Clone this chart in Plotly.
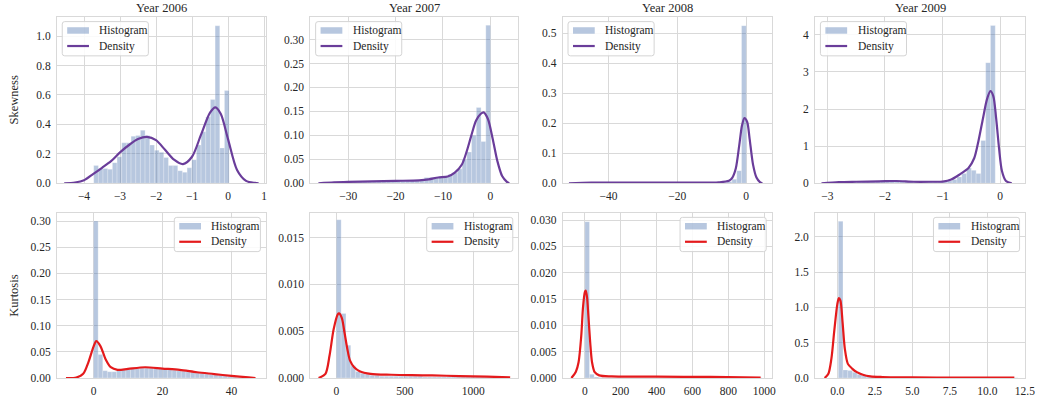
import numpy as np
import plotly.graph_objects as go

# ---------------- DATA ----------------
years = ["Year 2006", "Year 2007", "Year 2008", "Year 2009"]
row_labels = ["Skewness", "Kurtosis"]
legend_labels = ["Histogram", "Density"]

# Skewness histograms: (low edge, high edge) and bar heights
skew_2006_range = (-3.73, 0.03)
skew_2006_hist = [0.12, 0.10, 0.10, 0.095, 0.14, 0.18, 0.275, 0.275, 0.32, 0.325,
                  0.36, 0.325, 0.26, 0.225, 0.21, 0.175, 0.12, 0.12, 0.085, 0.075,
                  0.105, 0.16, 0.26, 0.35, 0.45, 0.57, 1.07, 0.24, 0.63]
skew_2006_kde_x = [-4.55, -4.25, -4.0, -3.75, -3.5, -3.25, -3.0, -2.75, -2.5, -2.25,
                   -2.0, -1.75, -1.5, -1.25, -1.0, -0.75, -0.5, -0.35, -0.2, 0.0,
                   0.25, 0.5, 0.75, 0.85]
skew_2006_kde_y = [0.0, 0.005, 0.02, 0.062, 0.105, 0.15, 0.21, 0.26, 0.30, 0.315,
                   0.293, 0.227, 0.16, 0.13, 0.18, 0.33, 0.48, 0.515, 0.47, 0.30,
                   0.09, 0.016, 0.002, 0.0]

skew_2007_range = (-35.95, 0.05)
skew_2007_hist = [0.001, 0.001, 0.001, 0.002, 0.002, 0.002, 0.002, 0.003, 0.003, 0.003,
                  0.003, 0.003, 0.004, 0.004, 0.004, 0.004, 0.005, 0.005, 0.005, 0.005,
                  0.006, 0.008, 0.012, 0.012, 0.013, 0.014, 0.015, 0.018, 0.022, 0.03,
                  0.05, 0.065, 0.10, 0.158, 0.087, 0.33]
skew_2007_kde_x = [-36.3, -33, -30, -25, -20, -15, -13, -11, -9, -7.5, -6, -5, -4, -3,
                   -2, -1.4, -0.5, 0.5, 1.5, 2.5, 3.5, 4.0]
skew_2007_kde_y = [0.0, 0.002, 0.003, 0.004, 0.005, 0.006, 0.008, 0.012, 0.014, 0.022,
                   0.039, 0.066, 0.10, 0.131, 0.145, 0.148, 0.134, 0.093, 0.046, 0.015,
                   0.003, 0.0]

skew_2008_range = (-51.38, 0.05)
skew_2008_hist = [0.001] * 20 + [0.001, 0.001, 0.001, 0.002, 0.002, 0.002, 0.002, 0.002,
                                  0.002, 0.002, 0.002, 0.003, 0.003, 0.006, 0.013, 0.042, 0.525]
skew_2008_kde_x = [-51.5, -45, -35, -25, -15, -8, -5, -4, -3, -2, -1.2, -0.5, 0.3, 1.0,
                   2.0, 3.0, 4.0, 4.7]
skew_2008_kde_y = [0.0, 0.002, 0.002, 0.002, 0.002, 0.003, 0.008, 0.019, 0.05, 0.127,
                   0.193, 0.217, 0.204, 0.149, 0.062, 0.019, 0.004, 0.0]

skew_2009_range = (-3.074, -0.086)
skew_2009_hist = [0.02, 0.02, 0.02, 0.03, 0.03, 0.04, 0.04, 0.05, 0.05, 0.04, 0.04, 0.05,
                  0.06, 0.06, 0.05, 0.05, 0.06, 0.06, 0.05, 0.05, 0.04, 0.04, 0.05, 0.05,
                  0.05, 0.06, 0.07, 0.10, 0.17, 0.26, 0.41, 0.35, 0.26, 1.15, 3.25, 4.25]
skew_2009_kde_x = [-3.1, -2.8, -2.5, -2.1, -1.8, -1.5, -1.2, -1.0, -0.85, -0.7, -0.55,
                   -0.45, -0.38, -0.3, -0.23, -0.17, -0.12, -0.07, -0.02, 0.03, 0.1, 0.2]
skew_2009_kde_y = [0.0, 0.03, 0.04, 0.05, 0.06, 0.04, 0.04, 0.045, 0.10, 0.24, 0.41,
                   0.68, 1.12, 1.74, 2.26, 2.48, 2.35, 1.74, 0.94, 0.33, 0.06, 0.0]

# Kurtosis histograms
kurt_2006_range = (0.0, 44.22)
kurt_2006_hist = [0.30, 0.045, 0.014, 0.012, 0.012, 0.016, 0.016, 0.017, 0.018, 0.018,
                  0.019, 0.019, 0.019, 0.018, 0.018, 0.017, 0.016, 0.015, 0.014, 0.013,
                  0.012, 0.011, 0.010, 0.009, 0.008, 0.007, 0.006, 0.005, 0.004, 0.003,
                  0.002, 0.001, 0.001]
kurt_2006_kde_x = [-8.0, -5.0, -3.0, -1.5, 0.0, 0.8, 2.0, 3.5, 5.0, 7.0, 10.0, 15.0,
                   20.0, 25.0, 30.0, 35.0, 40.0, 45.0, 47.0]
kurt_2006_kde_y = [0.0, 0.001, 0.008, 0.03, 0.06, 0.0705, 0.061, 0.036, 0.0206, 0.0156,
                   0.0175, 0.0206, 0.018, 0.0156, 0.011, 0.0075, 0.004, 0.0012, 0.0]

kurt_2007_range = (0.0, 1260.0)
kurt_2007_hist = [0.0169, 0.0069, 0.0035, 0.0013, 0.0007, 0.0005, 0.0004, 0.0003, 0.0003,
                  0.0002, 0.0002, 0.0002, 0.0002, 0.0002, 0.0002, 0.0002, 0.0002, 0.0002,
                  0.0001, 0.0001, 0.0001, 0.0001, 0.0001, 0.0001, 0.0001, 0.0001, 0.0001,
                  0.0001, 0.0001, 0.0001, 0.0001, 0.0001, 0.0001, 0.0001, 0.0001, 0.0001]
kurt_2007_kde_x = [-130, -80, -50, -20, 10, 20, 40, 60, 80, 100, 130, 170, 250, 400,
                   550, 700, 900, 1100, 1270]
kurt_2007_kde_y = [0.0, 0.00045, 0.0024, 0.0052, 0.0068, 0.0069, 0.0064, 0.0048, 0.0031,
                   0.00185, 0.00115, 0.00073, 0.00045, 0.00035, 0.0003, 0.00028, 0.0002,
                   0.00014, 0.00007]

kurt_2008_range = (0.0, 988.0)
kurt_2008_hist = [0.0297, 0.0007, 0.0002, 0.0001] + [0.00005] * 34
kurt_2008_kde_x = [-75, -50, -35, -20, -10, 0, 5, 12, 20, 30, 40, 55, 80, 150, 400,
                   700, 980]
kurt_2008_kde_y = [0.0, 0.0012, 0.003, 0.008, 0.0135, 0.0163, 0.0166, 0.0154, 0.0117,
                   0.0067, 0.003, 0.0011, 0.0005, 0.0003, 0.00025, 0.0002, 0.0001]

kurt_2009_range = (0.06, 12.03)
kurt_2009_hist = [2.22, 0.115, 0.105, 0.08, 0.05, 0.03, 0.02, 0.015, 0.01, 0.01,
                  0.008, 0.007, 0.006, 0.006, 0.005, 0.005, 0.005, 0.004, 0.004, 0.004,
                  0.004, 0.004, 0.003, 0.003, 0.003, 0.003, 0.003, 0.003, 0.003, 0.003,
                  0.003, 0.003, 0.003, 0.003, 0.003, 0.003, 0.003, 0.003]
kurt_2009_kde_x = [-0.85, -0.6, -0.4, -0.2, 0.0, 0.1, 0.2, 0.35, 0.5, 0.7, 1.0, 1.3,
                   1.7, 2.2, 3.0, 5.0, 8.0, 11.8]
kurt_2009_kde_y = [0.0, 0.06, 0.27, 0.68, 1.05, 1.13, 1.10, 0.78, 0.41, 0.20, 0.13,
                   0.083, 0.046, 0.023, 0.014, 0.009, 0.005, 0.004]

panels = [
    (skew_2006_range, skew_2006_hist, skew_2006_kde_x, skew_2006_kde_y),
    (skew_2007_range, skew_2007_hist, skew_2007_kde_x, skew_2007_kde_y),
    (skew_2008_range, skew_2008_hist, skew_2008_kde_x, skew_2008_kde_y),
    (skew_2009_range, skew_2009_hist, skew_2009_kde_x, skew_2009_kde_y),
    (kurt_2006_range, kurt_2006_hist, kurt_2006_kde_x, kurt_2006_kde_y),
    (kurt_2007_range, kurt_2007_hist, kurt_2007_kde_x, kurt_2007_kde_y),
    (kurt_2008_range, kurt_2008_hist, kurt_2008_kde_x, kurt_2008_kde_y),
    (kurt_2009_range, kurt_2009_hist, kurt_2009_kde_x, kurt_2009_kde_y),
]

# ---------------- STYLE / LAYOUT ----------------
W, H = 1046, 408
ML, MR, MT, MB = 57, 11, 17, 24
PW, PH = W - ML - MR, H - MT - MB
col_px = [(57, 268), (313, 523), (568, 779), (823, 1035)]
row_px = [(17, 186), (216, 384)]
x_ranges = [[-4.75, 1.05], [-38.0, 5.9], [-53.3, 7.4], [-3.21, 0.43],
            [-10.6, 50.0], [-190, 1329], [-123, 1041], [-1.48, 12.51]]
y_ranges = [[0, 1.13], [0, 0.347], [0, 0.554], [0, 4.48],
            [0, 0.316], [0, 0.01765], [0, 0.0314], [0, 2.34]]
x_dticks = [1, 10, 20, 1, 20, 500, 200, 2.5]
x_fmt = ["d", "d", "d", "d", "d", "d", "d", ".1f"]
y_dticks = [0.2, 0.05, 0.1, 1, 0.05, 0.005, 0.005, 0.5]
y_fmt = [".1f", ".2f", ".1f", "d", ".2f", ".3f", ".3f", ".1f"]

FONT = "Liberation Serif, Times New Roman, serif"
TXT = "#262626"
GRID = "#d9d9d9"
BAR_COLOR = "rgba(76,114,176,0.4)"
LINE_COLORS = ["#6a3d9a", "#e41a1c"]


def px2x(px):
    return (px - ML) / PW


def px2y(py):
    return (H - MB - py) / PH


def rounded_rect(x0, y0, x1, y1, r=2.5):
    def P(x, y):
        return f"{px2x(x):.6f},{px2y(y):.6f}"
    return (f"M {P(x0 + r, y0)} L {P(x1 - r, y0)} Q {P(x1, y0)} {P(x1, y0 + r)} "
            f"L {P(x1, y1 - r)} Q {P(x1, y1)} {P(x1 - r, y1)} "
            f"L {P(x0 + r, y1)} Q {P(x0, y1)} {P(x0, y1 - r)} "
            f"L {P(x0, y0 + r)} Q {P(x0, y0)} {P(x0 + r, y0)} Z")


fig = go.Figure()
layout = dict(
    width=W, height=H,
    margin=dict(l=ML, r=MR, t=MT, b=MB),
    paper_bgcolor="white", plot_bgcolor="white",
    font=dict(family=FONT, size=11, color=TXT),
    barmode="overlay",
    showlegend=False,
    hovermode=False,
    annotations=[],
    shapes=[],
)

for k, (rng, hist, kx, ky) in enumerate(panels):
    r, c = divmod(k, 4)
    idx = k + 1
    xa = "x" if idx == 1 else f"x{idx}"
    ya = "y" if idx == 1 else f"y{idx}"
    edges = np.linspace(rng[0], rng[1], len(hist) + 1)
    centers = (edges[:-1] + edges[1:]) / 2
    width = edges[1] - edges[0]
    fig.add_trace(go.Bar(x=centers, y=hist, width=width, name=legend_labels[0],
                         marker=dict(color=BAR_COLOR, line=dict(width=0.5, color="rgba(255,255,255,0.5)")),
                         xaxis=xa, yaxis=ya))
    fig.add_trace(go.Scatter(x=kx, y=ky, mode="lines", name=legend_labels[1],
                             line=dict(color=LINE_COLORS[r], width=2.2, shape="spline", smoothing=0.8),
                             xaxis=xa, yaxis=ya))

    x0, x1 = col_px[c]
    y0, y1 = row_px[r]
    xd = [px2x(x0), px2x(x1)]
    yd = [px2y(y1), px2y(y0)]
    axcommon = dict(showgrid=True, gridcolor=GRID, gridwidth=1, zeroline=False,
                    showline=True, linecolor=GRID, linewidth=1, mirror=True,
                    ticks="", ticklen=0, tickfont=dict(family=FONT, size=11.5, color=TXT))
    layout["xaxis" if idx == 1 else f"xaxis{idx}"] = dict(
        domain=xd, range=x_ranges[k], anchor=ya, ticklabelstandoff=2,
        dtick=x_dticks[k], tick0=0, tickformat=x_fmt[k], **axcommon)
    layout["yaxis" if idx == 1 else f"yaxis{idx}"] = dict(
        domain=yd, range=y_ranges[k], anchor=xa, ticklabelstandoff=3,
        dtick=y_dticks[k], tick0=0, tickformat=y_fmt[k], **axcommon)

    # custom legend box (matplotlib style)
    if r == 0:
        bx0 = x0 + 5.3
    else:
        bx0 = x1 - 5.5 - 87
    bx1 = bx0 + 87
    by0, by1 = y0 + 4.7, y0 + 39.5
    layout["shapes"].append(dict(type="path", path=rounded_rect(bx0, by0, bx1, by1),
                                 xref="paper", yref="paper",
                                 fillcolor="rgba(255,255,255,0.85)",
                                 line=dict(color="#d4d4d4", width=1), layer="above"))
    layout["shapes"].append(dict(type="rect", xref="paper", yref="paper",
                                 x0=px2x(bx0 + 5), x1=px2x(bx0 + 27),
                                 y0=px2y(y0 + 10.4), y1=px2y(y0 + 17),
                                 fillcolor=BAR_COLOR, line=dict(width=0), layer="above"))
    layout["shapes"].append(dict(type="line", xref="paper", yref="paper",
                                 x0=px2x(bx0 + 5), x1=px2x(bx0 + 27),
                                 y0=px2y(y0 + 29.5), y1=px2y(y0 + 29.5),
                                 line=dict(color=LINE_COLORS[r], width=2.2), layer="above"))
    for lab, yy in zip(legend_labels, [y0 + 13.7, y0 + 29.5]):
        layout["annotations"].append(dict(
            text=lab, x=px2x(bx0 + 35.5), y=px2y(yy), xref="paper", yref="paper",
            xanchor="left", yanchor="middle", showarrow=False,
            font=dict(family=FONT, size=11.5, color=TXT)))

    if r == 0:
        layout["annotations"].append(dict(
            text=years[c], x=(xd[0] + xd[1]) / 2, y=px2y(8), xref="paper", yref="paper",
            xanchor="center", yanchor="middle", showarrow=False,
            font=dict(family=FONT, size=12.5, color=TXT)))
    if c == 0:
        layout["annotations"].append(dict(
            text=row_labels[r], x=px2x(14), y=(yd[0] + yd[1]) / 2, xref="paper", yref="paper",
            xanchor="center", yanchor="middle", textangle=-90, showarrow=False,
            font=dict(family=FONT, size=12.5, color=TXT)))

fig.update_layout(**layout)
fig.write_html("out.html", config={"displayModeBar": False},
               post_script="document.body.style.margin='0px';document.body.style.padding='0px';")
